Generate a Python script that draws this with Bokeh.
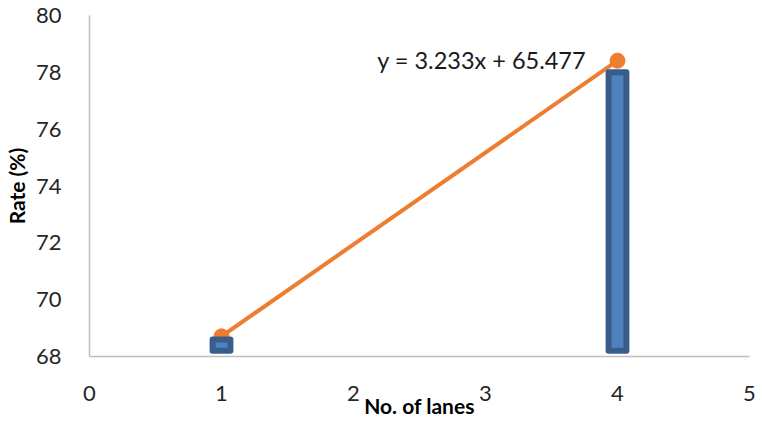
from bokeh.plotting import figure
from bokeh.models import Range1d, FixedTicker, Label, ColumnDataSource
from bokeh.embed import file_html
from bokeh.resources import INLINE

# Data
lanes = [1, 4]
bar_rate = [68.6, 78.0]
point_rate = [68.71, 78.41]
x_ticks = [0, 1, 2, 3, 4, 5]
y_ticks = [68, 70, 72, 74, 76, 78, 80]
equation = "y = 3.233x + 65.477"

FONT = "Lato"

p = figure(frame_width=660, frame_height=341, output_backend="svg", toolbar_location=None,
           x_range=Range1d(0, 5), y_range=Range1d(68, 80),
           min_border_left=82, min_border_right=8, min_border_top=15, min_border_bottom=58)
p.outline_line_color = None
p.xgrid.grid_line_color = None
p.ygrid.grid_line_color = None
p.background_fill_color = "white"
p.border_fill_color = "white"

# Trend line and points
p.line(lanes, point_rate, line_color="#ED7D31", line_width=4)
p.scatter(lanes, point_rate, size=15, fill_color="#ED7D31", line_color="#ED7D31")

# Bars
src = ColumnDataSource(dict(x=lanes, top=bar_rate))
p.vbar(x="x", top="top", bottom=68.2, width=0.135, source=src,
       fill_color="#4F81BD", line_color="#385D8A", line_width=6, line_join="round")

# Equation label
p.add_layout(Label(x=2.18, y=78.45, text=equation, text_font=FONT, text_font_size="23.5px",
                   text_color="#1a1a1a", text_baseline="middle", text_align="left"))

# Axes
for ax in (p.xaxis[0], p.yaxis[0]):
    ax.axis_line_color = "#BFBFBF"
    ax.axis_line_width = 1.5
    ax.major_tick_line_color = None
    ax.minor_tick_line_color = None
    ax.major_label_text_font = FONT
    ax.major_label_text_font_size = "22px"
    ax.major_label_text_color = "#262626"
    ax.axis_label_text_font = FONT
    ax.axis_label_text_font_size = "21px"
    ax.axis_label_text_font_style = "bold"
    ax.axis_label_text_color = "#000000"

p.xaxis.ticker = FixedTicker(ticks=x_ticks)
p.yaxis.ticker = FixedTicker(ticks=y_ticks)
p.xaxis.axis_label = "No. of lanes"
p.yaxis.axis_label = "Rate (%)"
p.xaxis.major_label_standoff = 23
p.yaxis.major_label_standoff = 22
p.xaxis.axis_label_standoff = -11
p.yaxis.axis_label_standoff = 4

open("out.html", "w").write(file_html(p, INLINE))
